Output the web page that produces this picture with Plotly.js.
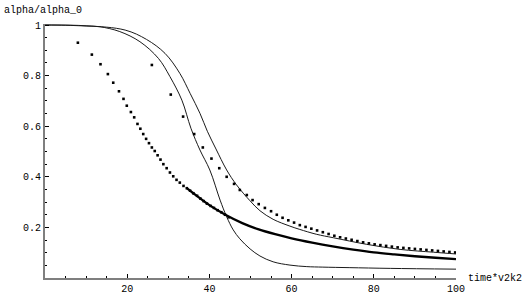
<!DOCTYPE html>
<html>
<head>
<meta charset="utf-8">
<script src="https://cdn.plot.ly/plotly-3.0.1.min.js"></script>
<style>
  html, body { margin: 0; padding: 0; background: #fff; }
  #chart { width: 532px; height: 296px; }
</style>
</head>
<body>
<div id="chart"></div>
<script>
// dense point list (early part, separate dots)
const denseX = [8.0, 11.4, 13.5, 15.3, 16.6, 18.0, 19.1, 19.9, 20.9, 21.7, 22.5, 23.2, 23.9, 24.6, 25.3, 26.0,
    26.7, 27.4, 28.1, 28.8, 29.6, 30.4, 31.2, 32.0, 32.8, 33.7, 34.5, 35.3, 36.1, 37.0, 37.8, 38.6,
    39.4, 40.3, 41.1, 42.0, 42.9, 43.8, 44.7];
const denseY = [0.930, 0.883, 0.845, 0.806, 0.772, 0.738, 0.708, 0.681, 0.656, 0.635, 0.609, 0.590, 0.569, 0.550, 0.533, 0.516,
    0.502, 0.485, 0.468, 0.450, 0.434, 0.417, 0.402, 0.388, 0.377, 0.364, 0.355, 0.345, 0.335, 0.325, 0.314, 0.304,
    0.294, 0.285, 0.277, 0.268, 0.260, 0.250, 0.240];

// same list where the dots merge into a thick line
const denseTailX = [34.5, 36, 40, 44, 48, 52, 56, 60, 65, 70, 75, 80, 85, 90, 95, 100];
const denseTailY = [0.355, 0.336, 0.288, 0.249, 0.217, 0.192, 0.173, 0.157, 0.140, 0.125, 0.112, 0.101, 0.093, 0.086, 0.080, 0.075];

// sparse point list
const sparseX = [26.0, 30.6, 33.6, 36.3, 38.4, 40.5, 42.4, 44.2, 46.0, 47.4, 49.1, 50.5, 52.0, 53.5, 55.0, 56.4,
    57.8, 59.2, 60.6, 62.0, 63.4, 64.8, 66.2, 67.6, 69.0, 70.4, 71.8, 73.2, 74.6, 76.0, 77.4, 78.8,
    80.2, 81.6, 83.0, 84.4, 85.8, 87.2, 88.6, 90.0, 91.4, 92.8, 94.2, 95.6, 97.0, 98.4, 99.8];
const sparseY = [0.842, 0.725, 0.638, 0.569, 0.516, 0.472, 0.434, 0.400, 0.372, 0.348, 0.328, 0.308, 0.292, 0.277, 0.264, 0.250,
    0.238, 0.228, 0.219, 0.209, 0.202, 0.195, 0.188, 0.181, 0.174, 0.167, 0.161, 0.156, 0.151, 0.146, 0.141, 0.137,
    0.133, 0.130, 0.127, 0.124, 0.121, 0.119, 0.117, 0.115, 0.113, 0.111, 0.109, 0.107, 0.105, 0.103, 0.101];

// steep solid curve
const steepX = [0, 5, 10, 13.4, 18.2, 23.1, 27.6, 30.4, 33.3, 35.5, 37.7, 40.1, 42.6, 44.2, 45.8, 47.4, 49.9,
    52.3, 55.5, 59.6, 63.7, 67.6, 74, 84, 100];
const steepY = [1.0, 0.999, 0.996, 0.993, 0.974, 0.934, 0.868, 0.796, 0.703, 0.592, 0.506, 0.427, 0.308, 0.242, 0.190, 0.155, 0.115,
    0.087, 0.064, 0.051, 0.045, 0.043, 0.041, 0.038, 0.035];

// slower solid curve
const slowX = [0, 10, 19.5, 24.7, 29.2, 32.8, 35.3, 37.7, 39.5, 41.6, 44.2, 46.6, 49.9, 52.3, 55.5, 59.6,
    62, 66, 70.2, 78.3, 86.4, 94.5, 100];
const slowY = [1.0, 0.997, 0.980, 0.943, 0.888, 0.809, 0.730, 0.651, 0.580, 0.510, 0.427, 0.368, 0.305, 0.266, 0.232, 0.205,
    0.192, 0.173, 0.159, 0.133, 0.113, 0.102, 0.095];

const xTicks = [20, 40, 60, 80, 100];
const yTicks = [0.2, 0.4, 0.6, 0.8, 1];

const tickFont = { family: 'Liberation Mono, DejaVu Sans Mono, monospace', size: 10, color: '#000' };

const traces = [
    {
        x: steepX, y: steepY, type: 'scatter', mode: 'lines',
        line: { color: '#1a1a1a', width: 1, shape: 'spline' }, hoverinfo: 'none'
    },
    {
        x: slowX, y: slowY, type: 'scatter', mode: 'lines',
        line: { color: '#1a1a1a', width: 1, shape: 'spline' }, hoverinfo: 'none'
    },
    {
        x: denseTailX, y: denseTailY, type: 'scatter', mode: 'lines',
        line: { color: '#000', width: 2.3, shape: 'spline' }, hoverinfo: 'none'
    },
    {
        x: denseX, y: denseY, type: 'scatter', mode: 'markers',
        marker: { color: '#000', size: 2.6, symbol: 'square' }, hoverinfo: 'none'
    },
    {
        x: sparseX, y: sparseY, type: 'scatter', mode: 'markers',
        marker: { color: '#000', size: 2.6, symbol: 'square' }, hoverinfo: 'none'
    }
];

const layout = {
    width: 532,
    height: 296,
    margin: { l: 45, r: 76, t: 24, b: 18 },
    paper_bgcolor: '#fff',
    plot_bgcolor: '#fff',
    showlegend: false,
    xaxis: {
        range: [0, 100],
        tickmode: 'array',
        tickvals: xTicks,
        ticks: 'inside', ticklen: 4, tickwidth: 1, tickcolor: '#000',
        minor: { tickmode: 'linear', tick0: 0, dtick: 5, ticks: 'inside', ticklen: 2, tickcolor: '#000', showgrid: false },
        showline: true, linecolor: '#7f7f7f', linewidth: 2,
        showgrid: false, zeroline: false,
        tickfont: tickFont
    },
    yaxis: {
        range: [0, 1.004],
        tickmode: 'array',
        tickvals: yTicks,
        ticks: 'inside', ticklen: 4, tickwidth: 1, tickcolor: '#000',
        minor: { tickmode: 'linear', tick0: 0, dtick: 0.05, ticks: 'inside', ticklen: 2, tickcolor: '#000', showgrid: false },
        showline: true, linecolor: '#7f7f7f', linewidth: 2,
        showgrid: false, zeroline: false,
        tickfont: tickFont
    },
    annotations: [
        {
            text: 'alpha/alpha_0', xref: 'paper', yref: 'paper', x: -0.105, y: 1.0,
            xanchor: 'left', yanchor: 'bottom', yshift: 6, showarrow: false,
            font: { family: 'Liberation Mono, monospace', size: 10, color: '#000' }
        },
        {
            text: 'time*v2k2', xref: 'paper', yref: 'paper', x: 1.0, y: 0,
            xanchor: 'left', yanchor: 'middle', xshift: 10, showarrow: false,
            font: { family: 'Liberation Mono, monospace', size: 10, color: '#000' }
        }
    ]
};

Plotly.newPlot('chart', traces, layout, { displayModeBar: false, staticPlot: true });
</script>
</body>
</html>
